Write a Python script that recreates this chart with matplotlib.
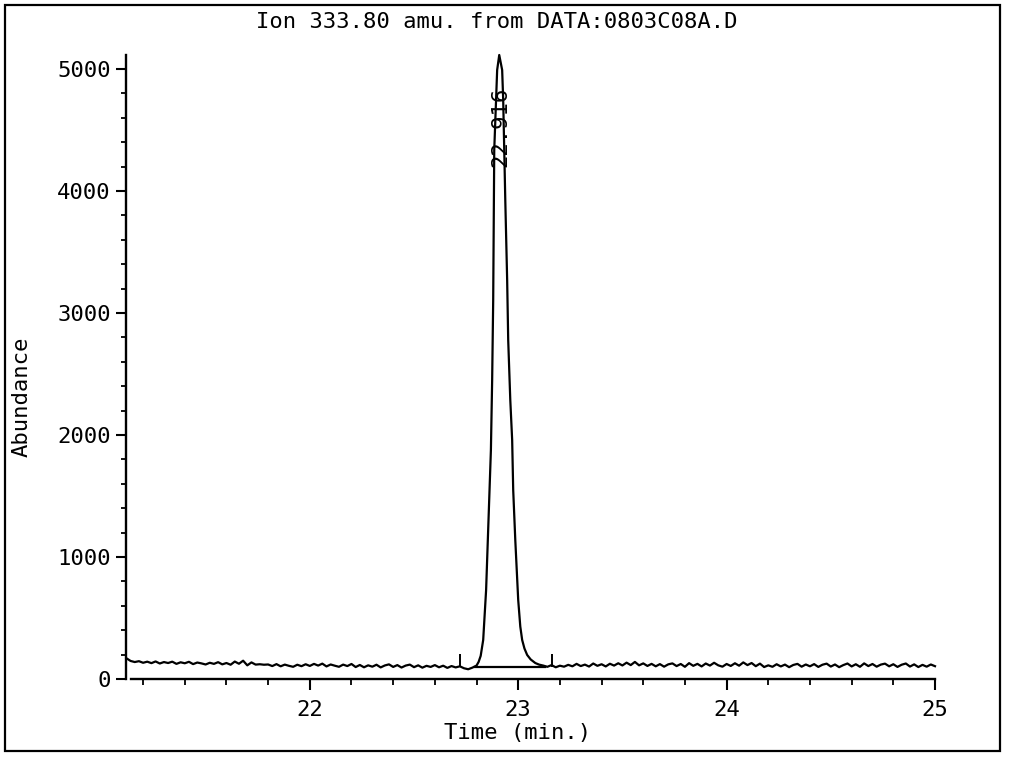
import numpy as np
import matplotlib
matplotlib.use("Agg")
import matplotlib.pyplot as plt
from matplotlib.ticker import MultipleLocator, FixedLocator
from matplotlib.patches import Rectangle

plt.rcParams['font.family'] = ['DejaVu Sans Mono', 'DejaVu Sans']

# ---------------- data ----------------
title = "Ion 333.80 amu. from DATA:0803C08A.D"
xlabel = "Time (min.)"
ylabel = "Abundance"
peak_label = "22.916"
peak_label_time = 22.914
peak_label_abund = 4525

x_major = [22, 23, 24, 25]
y_major = [0, 1000, 2000, 3000, 4000, 5000]

# baseline before the peak, sampled every 0.02 min starting at 21.12
pre_start = 21.12
scan_step = 0.02
pre_abund = [170, 148, 139, 146, 133, 142, 130, 144, 127, 139,
             131, 142, 124, 137, 129, 141, 122, 135, 128, 119,
             133, 124, 138, 120, 131, 117, 143, 125, 150, 112,
             136, 118, 121, 117, 119, 106, 122, 104, 118, 108,
             100, 117, 105, 121, 107, 124, 110, 126, 103, 119,
             109, 100, 118, 106, 123, 98, 115, 96, 112, 101,
             117, 95, 111, 120, 99, 114, 94, 110, 118, 97,
             112, 93, 108, 99, 114, 96, 109, 91, 106, 95,
             104, 88, 80, 93]

# the peak region
peak_time = [22.800, 22.810, 22.820, 22.832, 22.846, 22.856, 22.869, 22.875,
             22.880, 22.885, 22.894, 22.899, 22.909, 22.923, 22.928, 22.938,
             22.947, 22.952, 22.962, 22.971, 22.976, 22.986, 23.000, 23.010,
             23.019, 23.030, 23.043, 23.060, 23.082, 23.100, 23.120]
peak_abund = [110, 140, 190, 320, 730, 1220, 1877, 2450,
              3107, 4336, 4746, 4992, 5115, 4992, 4746, 3926,
              3270, 2779, 2287, 1959, 1549, 1139, 648, 430,
              320, 250, 197, 160, 131, 118, 110]

# baseline after the peak, sampled every 0.02 min starting at 23.14
post_start = 23.14
post_abund = [100, 114, 96, 109, 101, 116, 104, 124, 106, 118,
              102, 127, 108, 121, 103, 125, 110, 129, 111, 134,
              114, 140, 112, 128, 107, 124, 104, 122, 101, 120,
              128, 106, 123, 100, 130, 108, 124, 103, 127, 110,
              133, 112, 101, 123, 107, 129, 109, 136, 114, 131,
              105, 126, 98, 112, 100, 121, 103, 118, 97, 115,
              124, 101, 119, 104, 122, 99, 117, 126, 102, 119,
              97, 114, 127, 103, 121, 100, 128, 106, 123, 101,
              118, 126, 104, 121, 99, 117, 127, 102, 120, 98,
              116, 101, 119, 105]

# integration baseline and its start/end markers
integ_start = 22.795
integ_end = 23.130
integ_level = 98
marker_times = [22.722, 23.163]
marker_low = 98
marker_high = 205

# ---------------- assemble ----------------
pre_time = np.round(pre_start + scan_step * np.arange(len(pre_abund)), 3)
post_time = np.round(post_start + scan_step * np.arange(len(post_abund)), 3)
time = np.concatenate([pre_time, peak_time, post_time])
abund = np.concatenate([pre_abund, peak_abund, post_abund])

W, H = 1011, 757
fig = plt.figure(figsize=(W / 100, H / 100), dpi=100)
ax = fig.add_axes([126 / W, 1 - 679 / H, (935 - 126) / W, (679 - 55) / H])

ax.plot(time, abund, color='black', lw=1.6, clip_on=False)
ax.plot([integ_start, integ_end], [integ_level, integ_level], color='black', lw=1.6)
ax.vlines(marker_times, marker_low, marker_high, color='black', lw=1.4)

ax.text(peak_label_time, peak_label_abund, peak_label, rotation=90,
        ha='center', va='center', fontsize=16, color='black')

ax.set_xlim(21.118, 25.0)
ax.set_ylim(0, 5115)

for s in ['top', 'right']:
    ax.spines[s].set_visible(False)
for s in ['left', 'bottom']:
    ax.spines[s].set_linewidth(1.7)
ax.spines['bottom'].set_bounds(21.14, 25.0)

ax.xaxis.set_major_locator(FixedLocator(x_major))
ax.xaxis.set_minor_locator(MultipleLocator(0.2))
ax.yaxis.set_major_locator(FixedLocator(y_major))
ax.yaxis.set_minor_locator(MultipleLocator(200))
ax.set_xticklabels([str(v) for v in x_major])
ax.set_yticklabels([str(v) for v in y_major])

ax.tick_params(axis='x', which='major', direction='out', length=8, width=1.5,
               labelsize=16, pad=7)
ax.tick_params(axis='x', which='minor', direction='out', length=4, width=1.3)
ax.tick_params(axis='y', which='major', direction='out', length=7, width=1.5,
               labelsize=16, pad=4)
ax.tick_params(axis='y', which='minor', direction='out', length=3.5, width=1.3)

fig.text(497 / W, 1 - 22 / H, title, ha='center', va='center', fontsize=16)
fig.text(518 / W, 1 - 733 / H, xlabel, ha='center', va='center', fontsize=16)
fig.text(22 / W, 1 - 397 / H, ylabel, ha='center', va='center', fontsize=16,
         rotation=90)

fig.add_artist(Rectangle((5 / W, 1 - 751 / H), 995 / W, 746 / H,
                         transform=fig.transFigure, fill=False,
                         lw=1.6, color='black'))

fig.savefig("out.png", dpi=100)
